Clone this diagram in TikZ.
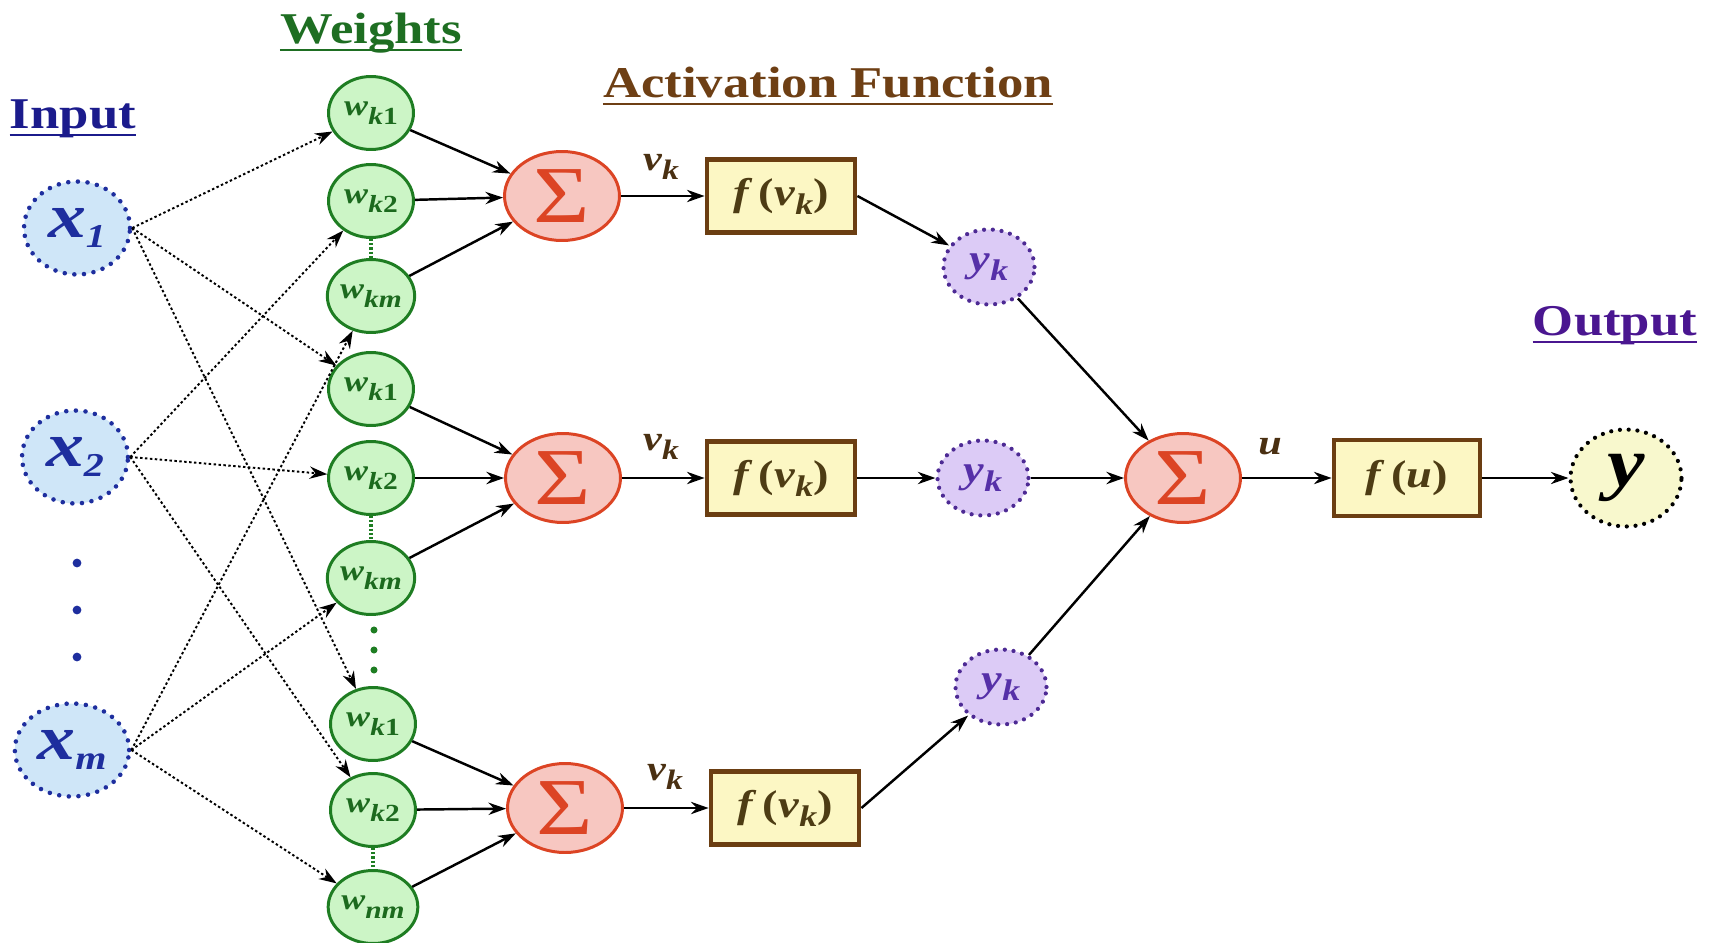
\documentclass[tikz,border=0pt]{standalone}
\usepackage{fontspec}
\setmainfont{Liberation Serif}[FakeStretch=1.2]
\usepackage{tikz}
\usetikzlibrary{shapes,arrows,arrows.meta}

\definecolor{inFill}{HTML}{CFE6F8}
\definecolor{inBlue}{HTML}{1E2E9E}
\definecolor{wFill}{HTML}{CCF5C6}
\definecolor{wGreen}{HTML}{1E7D22}
\definecolor{wText}{HTML}{1C6A1E}
\definecolor{sFill}{HTML}{F7C7C1}
\definecolor{sRed}{HTML}{DC4424}
\definecolor{fFill}{HTML}{FCF7C4}
\definecolor{fBrown}{HTML}{6B3E12}
\definecolor{fText}{HTML}{4D3C14}
\definecolor{ykFill}{HTML}{DCCBF6}
\definecolor{ykPurple}{HTML}{4D2A94}
\definecolor{ykText}{HTML}{5630A8}
\definecolor{oFill}{HTML}{F8F8CD}
\definecolor{headBlue}{HTML}{1B1B8C}
\definecolor{headGreen}{HTML}{1E6E22}
\definecolor{headBrown}{HTML}{6E3F14}
\definecolor{headPurple}{HTML}{4A1690}
\definecolor{sigBrown}{HTML}{4A3012}

\newcommand{\inx}[1]{\textit{x}\raisebox{-6pt}{\fontsize{19}{19}\selectfont\textit{#1}}}
\newcommand{\wt}[1]{\textit{w}\raisebox{-5pt}{\fontsize{14}{14}\selectfont #1}}
\newcommand{\yk}{\textit{y}\raisebox{-5pt}{\fontsize{17}{17}\selectfont\textit{k}}}
\newcommand{\fv}{\textit{f}\,(\textit{v}\raisebox{-5pt}{\fontsize{17}{17}\selectfont\textit{k}})}
\newcommand{\vk}{\textit{v}\raisebox{-5pt}{\fontsize{16}{16}\selectfont\textit{k}}}

\tikzstyle{inpoint} = [ellipse, minimum width=2.12cm, minimum height=1.86cm,
    fill=inFill, draw=inBlue, line width=2.6pt, line cap=round,
    dash pattern=on 0pt off 5.5pt, text=inBlue,
    font=\fontsize{36}{36}\selectfont\bfseries]
\tikzstyle{weight} = [ellipse, minimum width=1.7cm, minimum height=1.46cm,
    inner sep=0pt, fill=wFill, draw=wGreen, line width=1.7pt, text=wText,
    font=\fontsize{17}{17}\selectfont\bfseries]
\tikzstyle{adder} = [ellipse, minimum width=2.3cm, minimum height=1.78cm,
    inner sep=0pt, fill=sFill, draw=sRed, line width=1.7pt, text=sRed,
    font=\fontsize{46}{46}\selectfont]
\tikzstyle{actbox} = [rectangle, minimum width=2.96cm, minimum height=1.46cm,
    fill=fFill, draw=fBrown, line width=2.8pt, text=fText,
    font=\fontsize{22}{22}\selectfont\bfseries]
\tikzstyle{ynode} = [ellipse, minimum width=1.82cm, minimum height=1.5cm,
    fill=ykFill, draw=ykPurple, line width=2.4pt, line cap=round,
    dash pattern=on 0pt off 5pt, text=ykText,
    font=\fontsize{22}{22}\selectfont\bfseries]
\tikzstyle{outnode} = [ellipse, minimum width=2.22cm, minimum height=1.94cm,
    fill=oFill, draw=black, line width=2.4pt, line cap=round,
    dash pattern=on 0pt off 5pt,
    font=\fontsize{40}{40}\selectfont\bfseries\itshape]
\tikzstyle{heading} = [inner sep=0pt, anchor=base,
    font=\fontsize{25}{30}\selectfont\bfseries]
\tikzstyle{siglabel} = [text=sigBrown, font=\fontsize{20}{20}\selectfont\bfseries]
\tikzstyle{uline} = [line width=1.5pt]
\tikzstyle{arrow} = [line width=1.4pt,->,>={Stealth[length=10pt,width=7pt]}]
\tikzstyle{dotarrow} = [line width=1.1pt,->,>={Stealth[length=10pt,width=7pt]},
    dash pattern=on 1.4pt off 1.4pt]
\tikzstyle{gdots} = [wGreen, line width=2pt, dash pattern=on 1.2pt off 1.2pt]

\begin{document}
\begin{tikzpicture}[x=0.02cm,y=-0.02cm]
    \useasboundingbox (0,0) rectangle (1711,943);

    % headings
    \node (hIn) [heading, text=headBlue] at (73,128) {Input};
    \node (hW) [heading, text=headGreen] at (371,43) {Weights};
    \node (hAct) [heading, text=headBrown] at (828,97) {Activation Function};
    \node (hOut) [heading, text=headPurple] at (1615,335) {Output};
    \draw [uline, headBlue] ([yshift=-4pt]hIn.base west) -- ([yshift=-4pt]hIn.base east);
    \draw [uline, headGreen] ([yshift=-4pt]hW.base west) -- ([yshift=-4pt]hW.base east);
    \draw [uline, headBrown] ([yshift=-4pt]hAct.base west) -- ([yshift=-4pt]hAct.base east);
    \draw [uline, headPurple] ([yshift=-4pt]hOut.base west) -- ([yshift=-4pt]hOut.base east);

    % inputs
    \node (x1) [inpoint] at (77,228) {\inx{1}};
    \node (x2) [inpoint] at (75,457) {\inx{2}};
    \node (xm) [inpoint] at (72,750) {\inx{m}};
    \fill [inBlue] (77,563) circle (2.5pt) (77,610) circle (2.5pt) (77,657) circle (2.5pt);

    % weights
    \node (w11) [weight] at (371,113) {\wt{\textit{k}1}};
    \node (w12) [weight] at (371,201) {\wt{\textit{k}2}};
    \node (w13) [weight] at (371,296) {\wt{\textit{km}}};
    \node (w21) [weight] at (371,389) {\wt{\textit{k}1}};
    \node (w22) [weight] at (371,478) {\wt{\textit{k}2}};
    \node (w23) [weight] at (371,578) {\wt{\textit{km}}};
    \node (w31) [weight] at (373,724) {\wt{\textit{k}1}};
    \node (w32) [weight] at (373,810) {\wt{\textit{k}2}};
    \node (w33) [weight] at (373,907) {\wt{\textit{nm}}};
    \draw [gdots] (w12) -- (w13);
    \draw [gdots] (w22) -- (w23);
    \draw [gdots] (w32) -- (w33);
    \fill [wGreen] (374,630) circle (2pt) (374,650) circle (2pt) (374,670) circle (2pt);

    % summing junctions and activation boxes
    \node (s1) [adder] at (562,196) {Σ};
    \node (s2) [adder] at (563,478) {Σ};
    \node (s3) [adder] at (565,808) {Σ};
    \node (f1) [actbox] at (781,196) {\fv};
    \node (f2) [actbox] at (781,478) {\fv};
    \node (f3) [actbox] at (785,808) {\fv};
    \node (v1) [siglabel] at (661,167) {\vk};
    \node (v2) [siglabel] at (661,447) {\vk};
    \node (v3) [siglabel] at (665,777) {\vk};

    % hidden outputs
    \node (y1) [ynode] at (989,267) {\yk};
    \node (y2) [ynode] at (983,478) {\yk};
    \node (y3) [ynode] at (1001,687) {\yk};

    % output stage
    \node (s4) [adder] at (1183,478) {Σ};
    \node (fu) [actbox, minimum height=1.52cm, minimum width=2.92cm] at (1407,478) {\textit{f}\,(\textit{u})};
    \node (u) [siglabel] at (1270,447) {\textit{u}};
    \node (y) [outnode] at (1626,478) {y};

    % input to weight links
    \draw [dotarrow] (x1.east) -- (w11);
    \draw [dotarrow] (x1.east) -- (w21);
    \draw [dotarrow] (x1.east) -- (w31);
    \draw [dotarrow] (x2.east) -- (w12);
    \draw [dotarrow] (x2.east) -- (w22);
    \draw [dotarrow] (x2.east) -- (w32);
    \draw [dotarrow] (xm.east) -- (w13);
    \draw [dotarrow] (xm.east) -- (w23);
    \draw [dotarrow] (xm.east) -- (w33);

    % weights to sums
    \draw [arrow] (w11) -- (s1);
    \draw [arrow] (w12) -- (s1);
    \draw [arrow] (w13) -- (s1);
    \draw [arrow] (w21) -- (s2);
    \draw [arrow] (w22) -- (s2);
    \draw [arrow] (w23) -- (s2);
    \draw [arrow] (w31) -- (s3);
    \draw [arrow] (w32) -- (s3);
    \draw [arrow] (w33) -- (s3);

    \draw [arrow] (s1) -- (f1);
    \draw [arrow] (s2) -- (f2);
    \draw [arrow] (s3) -- (f3);
    \draw [arrow] (f1.east) -- (y1);
    \draw [arrow] (f2) -- (y2);
    \draw [arrow] (f3.east) -- (y3);
    \draw [arrow] (y1) -- (s4);
    \draw [arrow] (y2) -- (s4);
    \draw [arrow] (y3) -- (s4);
    \draw [arrow] (s4) -- (fu);
    \draw [arrow, line width=0.6pt] (fu) -- (y);
\end{tikzpicture}
\end{document}
